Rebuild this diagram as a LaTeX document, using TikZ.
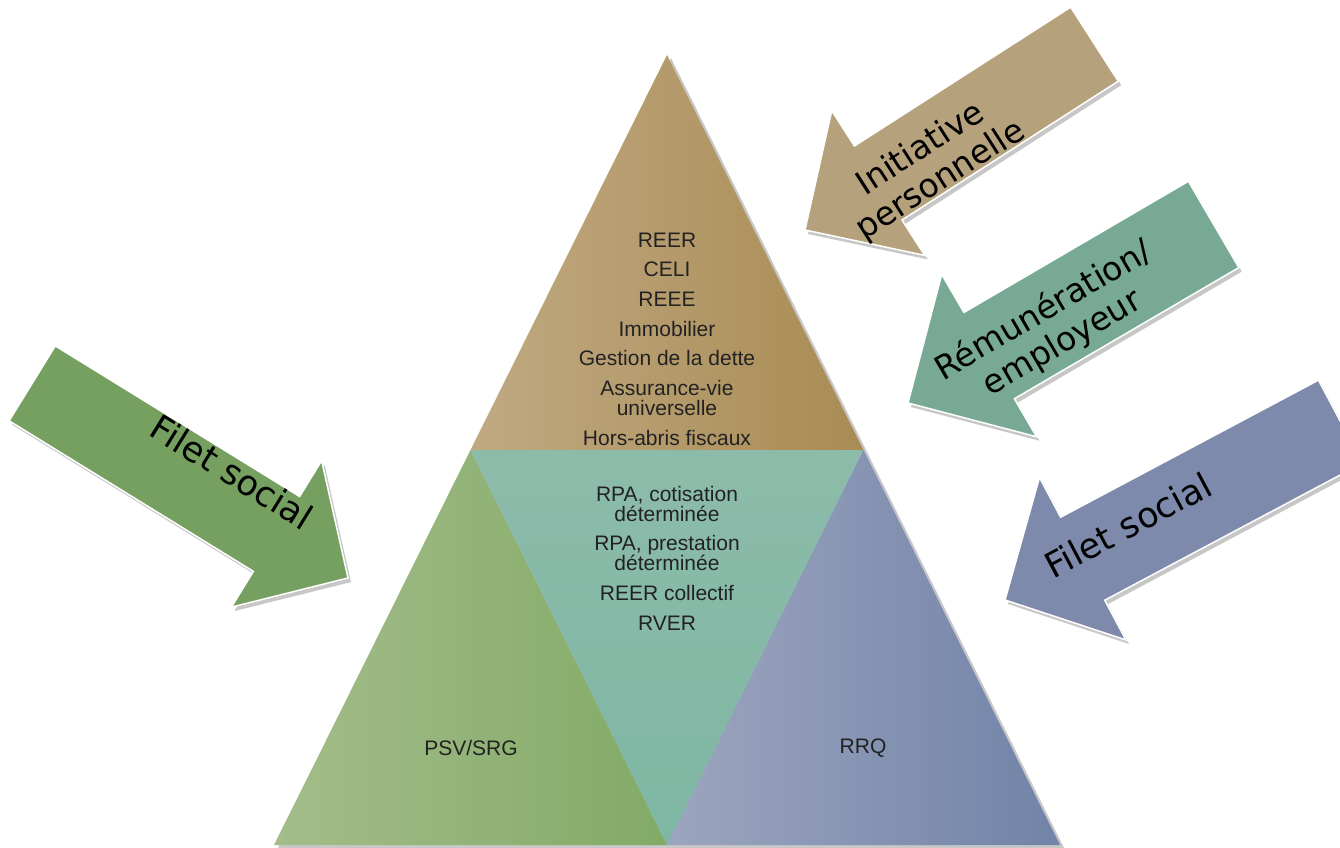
\documentclass[tikz,border=0pt]{standalone}
\usepackage{fontspec}
\newfontfamily\arrfont{DejaVu Sans}
\newfontfamily\pyrfont{Liberation Sans}
\definecolor{tanL}{HTML}{C0A982}
\definecolor{tanR}{HTML}{A98C54}
\definecolor{grnL}{HTML}{A3BD8A}
\definecolor{grnR}{HTML}{82AA66}
\definecolor{tealT}{HTML}{8DBBAA}
\definecolor{tealB}{HTML}{7DB7A3}
\definecolor{bluL}{HTML}{9CA5BF}
\definecolor{bluR}{HTML}{7183A7}
\definecolor{arTan}{HTML}{B5A17C}
\definecolor{arTeal}{HTML}{77A994}
\definecolor{arBlue}{HTML}{7E8AAB}
\definecolor{arGreen}{HTML}{75A060}
\definecolor{txt}{HTML}{222222}
\tikzset{
  pyrtext/.style={font=\pyrfont\fontsize{21}{20}\selectfont, text=txt, align=center, inner sep=0pt},
  arrtext/.style={font=\arrfont\fontsize{33}{37}\selectfont, text=black, align=center, inner sep=0pt},
  arrbody/.style={draw=white, line width=1.5, line join=miter},
  shadowfill/.style={fill=black, opacity=0.22},
}
% #1 tip, #2 angle, #3 total length, #4 head length, #5 head half width, #6 shaft half width, #7 colour
\newcommand{\bigarrowshape}[7]{%
  \begin{scope}[shift={(3,4)}]
    \begin{scope}[shift={#1},rotate=#2]
      \fill[shadowfill] (0,0) -- (#4,#5) -- (#4,#6) -- (#3,#6) -- (#3,-#6) -- (#4,-#6) -- (#4,-#5) -- cycle;
    \end{scope}
  \end{scope}
  \begin{scope}[shift={#1},rotate=#2]
    \filldraw[arrbody, fill=#7] (0,0) -- (#4,#5) -- (#4,#6) -- (#3,#6) -- (#3,-#6) -- (#4,-#6) -- (#4,-#5) -- cycle;
  \end{scope}
}
\begin{document}
\begin{tikzpicture}[x=1pt,y=-1pt]
\clip (0,0) rectangle (1340,847);
\fill[white] (0,0) rectangle (1340,847);

% pyramid corners
\coordinate (A) at (667,55);
\coordinate (ML) at (470.5,450);
\coordinate (MR) at (863.5,450);
\coordinate (BL) at (274,845);
\coordinate (BR) at (1060,845);
\coordinate (BC) at (667,845);

% pyramid shadow
\fill[shadowfill] ([shift={(4,3)}]A) -- ([shift={(4,3)}]BR) -- ([shift={(4,3)}]BL) -- cycle;

% sections
\shade[left color=tanL, right color=tanR] (A) -- (MR) -- (ML) -- cycle;
\shade[left color=grnL, right color=grnR] (ML) -- (BC) -- (BL) -- cycle;
\shade[top color=tealT, bottom color=tealB] (ML) -- (MR) -- (BC) -- cycle;
\shade[left color=bluL, right color=bluR] (MR) -- (BR) -- (BC) -- cycle;

% pyramid texts
\node[pyrtext] (top) at (667,339) {REER\\[9.7pt]CELI\\[9.7pt]REEE\\[9.7pt]Immobilier\\[9.7pt]Gestion de la dette\\[9.7pt]Assurance-vie\\universelle\\[9.7pt]Hors-abris fiscaux};
\node[pyrtext] (mid) at (667,558) {RPA, cotisation\\déterminée\\[9.7pt]RPA, prestation\\déterminée\\[9.7pt]REER collectif\\[9.7pt]RVER};
\node[pyrtext] (psv) at (471,748) {PSV/SRG};
\node[pyrtext] (rrq) at (863,748) {RRQ};

% arrows
\bigarrowshape{(805,230)}{32.7}{344}{87}{86}{44}{arTan}
\bigarrowshape{(908,403)}{30.3}{354}{94}{94}{50}{arTeal}
\bigarrowshape{(1005,600)}{28}{380}{88}{92}{47}{arBlue}
\bigarrowshape{(348,578)}{148.35}{371}{84}{86}{44}{arGreen}

\node[arrtext, rotate=32.7] (ip) at (931,165) {Initiative\\personnelle};
\node[arrtext, rotate=30.3] (re) at (1053,327) {Rémunération/\\employeur};
\node[arrtext, rotate=28, font=\arrfont\fontsize{35}{38}\selectfont] (fs1) at (1128,525) {Filet social};
\node[arrtext, rotate=-31.7, font=\arrfont\fontsize{35}{38}\selectfont] (fs2) at (232,472) {Filet social};
\end{tikzpicture}
\end{document}
